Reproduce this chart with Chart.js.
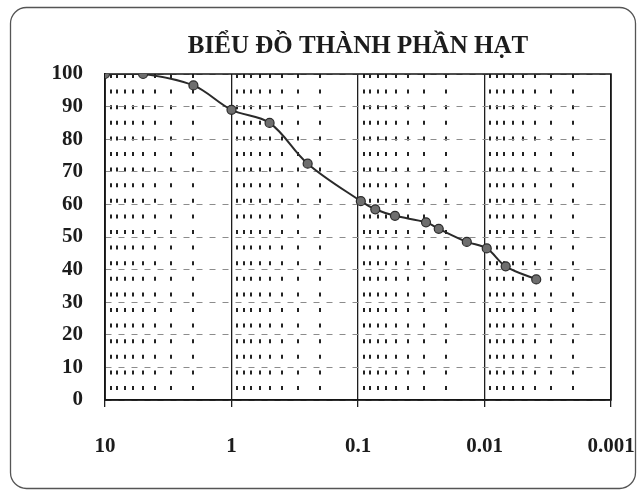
<!DOCTYPE html>
<html>
<head>
<meta charset="utf-8">
<script src="https://cdn.jsdelivr.net/npm/chart.js@4"></script>
<style>
  html, body { margin: 0; padding: 0; background: #fff; }
  #wrap { width: 642px; height: 493px; }
</style>
</head>
<body>
<div id="wrap"><canvas id="c" width="642" height="493"></canvas></div>
<script>
// Grain size distribution: particle diameter (mm) vs. percent finer
const chartTitle = 'BIỂU ĐỒ THÀNH PHẦN HẠT';
const grainSizes = [10, 5, 2, 1, 0.5, 0.25, 0.095, 0.073, 0.051, 0.029, 0.023, 0.0138, 0.0096, 0.0068, 0.0039];
const percentFiner = [100, 100, 96.5, 89, 85, 72.5, 61, 58.5, 56.5, 54.5, 52.5, 48.5, 46.5, 41, 37];

// Axis ticks
const xDecades = [10, 1, 0.1, 0.01, 0.001];
const xTickLabels = ['10', '1', '0.1', '0.01', '0.001'];
const xMinorMultipliers = [2, 3, 4, 5, 6, 7, 8, 9];
const yTicks = [0, 10, 20, 30, 40, 50, 60, 70, 80, 90, 100];

const serif = "'Liberation Serif', 'Times New Roman', serif";
const ink = '#1c1c1c';

const points = grainSizes.map((d, i) => ({ x: d, y: percentFiner[i] }));

// minor log grid positions (2..9 in every decade below the top one)
const minorValues = [];
xDecades.slice(1).forEach(d => xMinorMultipliers.forEach(m => minorValues.push(d * m)));

const outerFrame = {
  id: 'outerFrame',
  beforeDraw(chart) {
    const ctx = chart.ctx;
    ctx.save();
    ctx.fillStyle = '#ffffff';
    ctx.fillRect(0, 0, chart.width, chart.height);
    ctx.strokeStyle = '#555';
    ctx.lineWidth = 1.3;
    ctx.beginPath();
    ctx.roundRect(10.5, 7.5, 625, 481, 16);
    ctx.stroke();
    ctx.restore();
  }
};

const plotFrame = {
  id: 'plotFrame',
  beforeDatasetsDraw(chart) {
    const { ctx, chartArea: a } = chart;
    ctx.save();
    ctx.strokeStyle = '#151515';
    ctx.lineWidth = 1.5;
    ctx.strokeRect(a.left, a.top, a.right - a.left, a.bottom - a.top);
    ctx.restore();
  }
};

new Chart(document.getElementById('c'), {
  type: 'line',
  data: {
    datasets: [{
      data: points,
      xAxisID: 'x',
      yAxisID: 'y',
      borderColor: '#2a2a2a',
      borderWidth: 2,
      tension: 0.35,
      pointRadius: 4.5,
      pointBackgroundColor: '#6e6e6e',
      pointBorderColor: '#2a2a2a',
      pointBorderWidth: 1.2
    }]
  },
  options: {
    responsive: false,
    animation: false,
    layout: { padding: { left: 0, right: 31, top: 0, bottom: 0 } },
    plugins: {
      legend: { display: false },
      tooltip: { enabled: false },
      title: {
        display: true,
        fullSize: false,
        text: chartTitle,
        color: ink,
        font: { family: serif, size: 25, weight: 'bold' },
        padding: { top: 32, bottom: 12 }
      }
    },
    scales: {
      xMinor: {
        type: 'logarithmic',
        position: 'bottom',
        min: 0.001,
        max: 10,
        reverse: true,
        afterBuildTicks: s => { s.ticks = minorValues.map(v => ({ value: v })); },
        afterFit: s => { s.height = 0; s.paddingLeft = 0; s.paddingRight = 0; },
        ticks: { display: false },
        grid: { color: '#222', lineWidth: 2, drawTicks: false },
        border: { display: false, dash: [4, 11.6], dashOffset: 0 }
      },
      x: {
        type: 'logarithmic',
        position: 'bottom',
        min: 0.001,
        max: 10,
        reverse: true,
        afterBuildTicks: s => { s.ticks = xDecades.map(v => ({ value: v })); },
        afterFit: s => { s.height = 93; s.paddingLeft = 0; s.paddingRight = 0; },
        ticks: {
          autoSkip: false,
          maxRotation: 0,
          padding: 27,
          color: ink,
          font: { family: serif, size: 21, weight: 'bold' },
          callback: v => xTickLabels[xDecades.indexOf(v)]
        },
        grid: { color: '#1e1e1e', lineWidth: 1.3, drawTicks: true, tickLength: 7, tickColor: '#1e1e1e', tickWidth: 1.3 },
        border: { display: true, color: '#151515', width: 1.5 }
      },
      y: {
        type: 'linear',
        position: 'left',
        min: 0,
        max: 100,
        afterBuildTicks: s => { s.ticks = yTicks.map(v => ({ value: v })); },
        afterFit: s => { s.width = 105; },
        ticks: {
          padding: 22,
          color: ink,
          font: { family: serif, size: 21, weight: 'bold' }
        },
        grid: { color: '#8c8c8c', lineWidth: 1, drawTicks: false },
        border: { display: true, color: '#151515', width: 1.5, dash: [6, 7] }
      }
    }
  },
  plugins: [outerFrame, plotFrame]
});
</script>
</body>
</html>
